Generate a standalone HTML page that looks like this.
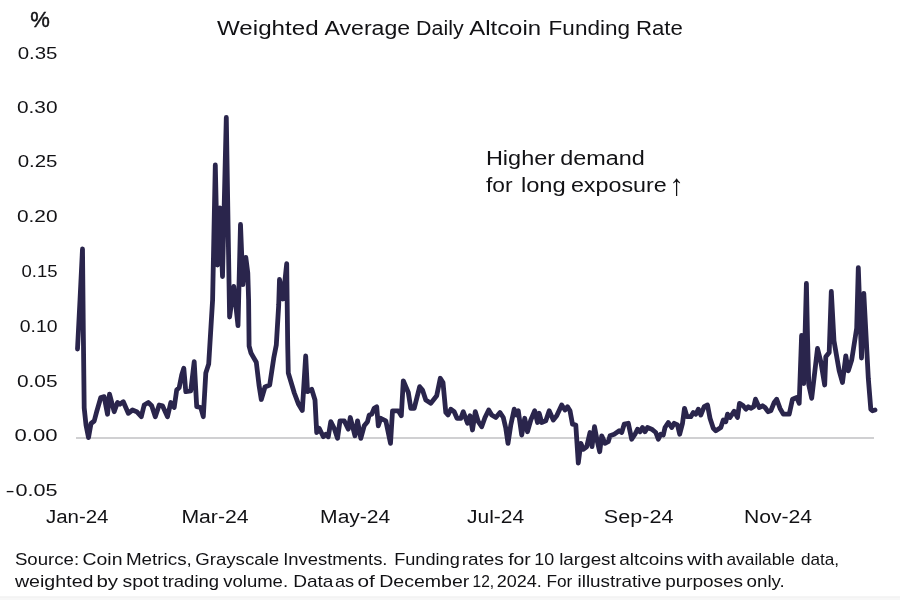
<!DOCTYPE html>
<html lang="en">
<head>
<meta charset="utf-8">
<title>Weighted Average Daily Altcoin Funding Rate</title>
<style>
html,body{margin:0;padding:0;background:#fff;}
body{width:900px;height:600px;overflow:hidden;}
svg{display:block;will-change:transform;}
text{font-family:"Liberation Sans", sans-serif;fill:#121215;}
</style>
</head>
<body>
<svg width="900" height="600" viewBox="0 0 900 600">
<rect x="0" y="0" width="900" height="600" fill="#ffffff"/>
<rect x="0" y="596.5" width="900" height="3.5" fill="#f7f7f7"/>
<rect x="0" y="596.5" width="900" height="1" fill="#efefef"/>
<line x1="76" y1="438" x2="874" y2="438" stroke="#d0d0d2" stroke-width="2"/>
<text x="217.0" y="34.6" font-size="19.6" text-anchor="start" textLength="101.6" lengthAdjust="spacingAndGlyphs">Weighted</text>
<text x="324.5" y="34.6" font-size="19.6" text-anchor="start" textLength="85.7" lengthAdjust="spacingAndGlyphs">Average</text>
<text x="416.1" y="34.6" font-size="19.6" text-anchor="start" textLength="47.5" lengthAdjust="spacingAndGlyphs">Daily</text>
<text x="469.2" y="34.6" font-size="19.6" text-anchor="start" textLength="71.9" lengthAdjust="spacingAndGlyphs">Altcoin</text>
<text x="548.6" y="34.6" font-size="19.6" text-anchor="start" textLength="81.4" lengthAdjust="spacingAndGlyphs">Funding</text>
<text x="635.9" y="34.6" font-size="19.6" text-anchor="start" textLength="46.9" lengthAdjust="spacingAndGlyphs">Rate</text>
<text x="30.2" y="27.4" font-size="21.4" text-anchor="start" textLength="19.6" lengthAdjust="spacingAndGlyphs" stroke="#121215" stroke-width="0.45">%</text>
<text x="57.5" y="58.6" font-size="17.2" text-anchor="end" textLength="39.8" lengthAdjust="spacingAndGlyphs">0.35</text>
<text x="57.5" y="113.2" font-size="17.2" text-anchor="end" textLength="40.6" lengthAdjust="spacingAndGlyphs">0.30</text>
<text x="57.5" y="166.9" font-size="17.2" text-anchor="end" textLength="39.8" lengthAdjust="spacingAndGlyphs">0.25</text>
<text x="57.5" y="221.8" font-size="17.2" text-anchor="end" textLength="40.6" lengthAdjust="spacingAndGlyphs">0.20</text>
<text x="57.5" y="276.8" font-size="17.2" text-anchor="end" textLength="36" lengthAdjust="spacingAndGlyphs">0.15</text>
<text x="57.5" y="331.7" font-size="17.2" text-anchor="end" textLength="37.7" lengthAdjust="spacingAndGlyphs">0.10</text>
<text x="57.5" y="386.8" font-size="17.2" text-anchor="end" textLength="40.6" lengthAdjust="spacingAndGlyphs">0.05</text>
<text x="57.5" y="440.9" font-size="17.2" text-anchor="end" textLength="43" lengthAdjust="spacingAndGlyphs">0.00</text>
<text y="495.9" font-size="17.2"><tspan x="5.6" textLength="9.2" lengthAdjust="spacingAndGlyphs">-</tspan><tspan x="15.4" textLength="42.1" lengthAdjust="spacingAndGlyphs">0.05</tspan></text>
<text x="77.2" y="523.0" font-size="17.6" text-anchor="middle" textLength="62.6" lengthAdjust="spacingAndGlyphs">Jan-24</text>
<text x="215" y="523.0" font-size="17.6" text-anchor="middle" textLength="67.2" lengthAdjust="spacingAndGlyphs">Mar-24</text>
<text x="355.2" y="523.0" font-size="17.6" text-anchor="middle" textLength="70.2" lengthAdjust="spacingAndGlyphs">May-24</text>
<text x="495.6" y="523.0" font-size="17.6" text-anchor="middle" textLength="57.2" lengthAdjust="spacingAndGlyphs">Jul-24</text>
<text x="638.6" y="523.0" font-size="17.6" text-anchor="middle" textLength="69.6" lengthAdjust="spacingAndGlyphs">Sep-24</text>
<text x="778" y="523.0" font-size="17.6" text-anchor="middle" textLength="68.2" lengthAdjust="spacingAndGlyphs">Nov-24</text>
<text x="485.9" y="165" font-size="19.6" text-anchor="start" textLength="69.2" lengthAdjust="spacingAndGlyphs">Higher</text>
<text x="560.2" y="165" font-size="19.6" text-anchor="start" textLength="84.6" lengthAdjust="spacingAndGlyphs">demand</text>
<text x="485.9" y="192.3" font-size="19.6" text-anchor="start" textLength="26.6" lengthAdjust="spacingAndGlyphs">for</text>
<text x="520.9" y="192.3" font-size="19.6" text-anchor="start" textLength="44.9" lengthAdjust="spacingAndGlyphs">long</text>
<text x="570.9" y="192.3" font-size="19.6" text-anchor="start" textLength="95.9" lengthAdjust="spacingAndGlyphs">exposure</text>
<text x="669.3" y="194.8" font-size="29.4" text-anchor="start">↑</text>
<text x="14.9" y="565" font-size="16.6" text-anchor="start" textLength="64.2" lengthAdjust="spacingAndGlyphs">Source:</text>
<text x="82.5" y="565" font-size="16.6" text-anchor="start" textLength="40.0" lengthAdjust="spacingAndGlyphs">Coin</text>
<text x="125.9" y="565" font-size="16.6" text-anchor="start" textLength="65.9" lengthAdjust="spacingAndGlyphs">Metrics,</text>
<text x="195.2" y="565" font-size="16.6" text-anchor="start" textLength="83.9" lengthAdjust="spacingAndGlyphs">Grayscale</text>
<text x="283.2" y="565" font-size="16.6" text-anchor="start" textLength="104.3" lengthAdjust="spacingAndGlyphs">Investments.</text>
<text x="394.2" y="565" font-size="16.6" text-anchor="start" textLength="65.6" lengthAdjust="spacingAndGlyphs">Funding</text>
<text x="461.7" y="565" font-size="16.6" text-anchor="start" textLength="42.1" lengthAdjust="spacingAndGlyphs">rates</text>
<text x="508.2" y="565" font-size="16.6" text-anchor="start" textLength="22.6" lengthAdjust="spacingAndGlyphs">for</text>
<text x="534.2" y="565" font-size="16.6" text-anchor="start" textLength="19.9" lengthAdjust="spacingAndGlyphs">10</text>
<text x="559.2" y="565" font-size="16.6" text-anchor="start" textLength="56.6" lengthAdjust="spacingAndGlyphs">largest</text>
<text x="619.2" y="565" font-size="16.6" text-anchor="start" textLength="64.3" lengthAdjust="spacingAndGlyphs">altcoins</text>
<text x="686.9" y="565" font-size="16.6" text-anchor="start" textLength="36.6" lengthAdjust="spacingAndGlyphs">with</text>
<text x="726.5" y="565" font-size="16.6" text-anchor="start" textLength="68.3" lengthAdjust="spacingAndGlyphs">available</text>
<text x="800.9" y="565" font-size="16.6" text-anchor="start" textLength="38.2" lengthAdjust="spacingAndGlyphs">data,</text>
<text x="14.9" y="586.6" font-size="16.6" text-anchor="start" textLength="78.6" lengthAdjust="spacingAndGlyphs">weighted</text>
<text x="96.5" y="586.6" font-size="16.6" text-anchor="start" textLength="21.6" lengthAdjust="spacingAndGlyphs">by</text>
<text x="122.5" y="586.6" font-size="16.6" text-anchor="start" textLength="36.6" lengthAdjust="spacingAndGlyphs">spot</text>
<text x="162.5" y="586.6" font-size="16.6" text-anchor="start" textLength="56.6" lengthAdjust="spacingAndGlyphs">trading</text>
<text x="223.2" y="586.6" font-size="16.6" text-anchor="start" textLength="64.9" lengthAdjust="spacingAndGlyphs">volume.</text>
<text x="293.2" y="586.6" font-size="16.6" text-anchor="start" textLength="40.3" lengthAdjust="spacingAndGlyphs">Data</text>
<text x="334.9" y="586.6" font-size="16.6" text-anchor="start" textLength="19.2" lengthAdjust="spacingAndGlyphs">as</text>
<text x="357.5" y="586.6" font-size="16.6" text-anchor="start" textLength="17.3" lengthAdjust="spacingAndGlyphs">of</text>
<text x="379.2" y="586.6" font-size="16.6" text-anchor="start" textLength="90.1" lengthAdjust="spacingAndGlyphs">December</text>
<text x="472.5" y="586.6" font-size="16.6" text-anchor="start" textLength="21.6" lengthAdjust="spacingAndGlyphs">12,</text>
<text x="496.7" y="586.6" font-size="16.6" text-anchor="start" textLength="45.1" lengthAdjust="spacingAndGlyphs">2024.</text>
<text x="546.4" y="586.6" font-size="16.6" text-anchor="start" textLength="25.9" lengthAdjust="spacingAndGlyphs">For</text>
<text x="577.5" y="586.6" font-size="16.6" text-anchor="start" textLength="84.0" lengthAdjust="spacingAndGlyphs">illustrative</text>
<text x="665.2" y="586.6" font-size="16.6" text-anchor="start" textLength="77.9" lengthAdjust="spacingAndGlyphs">purposes</text>
<text x="746.5" y="586.6" font-size="16.6" text-anchor="start" textLength="38.3" lengthAdjust="spacingAndGlyphs">only.</text>
<polyline points="77.5,349.0 80.0,300.0 82.5,249.0 83.3,330.0 84.2,408.0 86.0,425.0 88.5,437.6 91.0,423.5 94.2,421.0 96.7,411.7 100.8,397.5 104.2,396.7 107.5,414.2 109.5,394.2 114.2,411.7 117.5,402.5 120.0,404.2 123.3,401.7 128.3,413.3 132.5,410.0 136.7,411.7 141.3,416.7 144.2,405.0 148.3,402.5 151.7,405.8 155.3,416.7 159.2,405.0 162.5,405.8 167.5,416.7 170.8,402.5 174.2,407.5 176.7,390.0 179.2,387.5 181.7,375.0 183.8,368.3 185.8,391.7 190.8,390.8 194.2,361.7 196.7,406.7 200.8,407.5 203.3,416.7 205.8,373.0 208.7,364.0 212.6,300.0 215.3,165.0 217.5,265.0 220.0,208.0 222.5,276.5 226.3,117.5 229.6,317.0 233.8,286.5 238.0,325.7 240.5,224.5 242.9,284.7 245.8,257.4 247.8,273.0 248.6,300.0 249.1,346.0 251.0,353.0 256.3,362.3 259.0,385.0 261.3,399.5 265.0,387.0 269.7,385.0 273.7,358.3 276.3,345.0 278.7,305.0 279.5,279.5 283.0,299.0 286.7,263.7 287.7,345.0 288.3,373.0 294.3,393.0 298.3,403.7 302.3,410.5 305.7,356.0 307.5,391.7 311.7,389.2 315.0,400.0 316.7,432.5 319.2,428.3 323.3,436.7 325.8,434.2 328.3,436.7 330.8,421.7 334.2,428.3 337.5,438.3 340.0,420.8 344.2,420.8 348.3,429.2 350.3,417.5 355.0,435.8 357.5,420.8 360.8,438.3 364.2,425.8 367.5,421.7 369.2,415.0 371.7,414.2 374.2,408.3 376.7,406.7 378.3,425.8 380.8,418.3 385.8,420.8 390.5,443.3 392.5,410.8 398.3,410.8 401.3,415.8 403.3,380.8 408.3,392.5 410.8,408.3 414.2,408.3 419.7,386.7 422.5,390.0 425.8,400.0 430.8,403.3 436.7,395.8 440.3,378.3 443.0,382.5 445.8,412.5 448.0,415.0 450.8,409.2 454.2,411.7 457.0,418.3 460.8,418.3 463.3,411.7 467.5,423.3 470.0,415.8 472.5,430.0 475.3,411.7 478.3,421.7 481.7,426.7 485.0,417.5 488.7,410.0 491.7,415.0 495.8,417.5 500.0,412.5 503.3,417.5 505.8,428.3 508.0,443.3 510.8,425.0 514.2,409.2 516.7,415.0 518.3,410.8 521.7,435.0 524.7,418.3 527.5,431.7 530.8,420.0 534.7,410.8 537.5,422.5 539.2,413.3 541.7,422.5 545.8,420.8 549.2,410.8 553.3,420.0 556.7,415.8 561.7,405.0 565.0,410.0 567.5,406.7 570.0,410.8 572.5,424.2 575.8,425.0 578.3,463.0 580.8,443.3 583.3,449.2 586.7,446.7 590.0,432.5 592.0,446.7 594.5,426.7 597.0,440.0 599.7,451.7 601.7,435.8 605.0,443.3 608.3,441.7 610.0,435.8 614.2,434.2 619.2,430.8 621.7,432.5 624.2,424.2 628.3,423.3 631.7,439.2 635.0,434.2 637.5,429.2 640.0,431.7 642.5,427.5 645.0,431.7 647.5,427.5 651.7,429.2 655.8,432.5 658.3,439.2 660.8,434.2 663.3,435.0 665.0,427.5 668.3,422.5 671.7,427.5 674.2,423.3 677.5,425.0 679.7,434.2 682.5,423.3 684.5,408.3 687.0,416.7 690.8,416.7 693.3,412.5 695.8,414.2 698.3,409.2 700.8,415.0 704.2,406.7 707.5,405.0 710.0,418.3 713.3,428.3 715.8,430.8 720.8,427.5 723.3,420.0 725.8,421.7 727.5,414.2 730.0,417.5 734.2,411.2 737.5,417.5 739.5,403.3 743.3,405.8 745.8,409.2 748.3,406.7 750.8,408.3 753.7,406.7 755.5,399.2 759.2,407.5 762.5,405.8 765.0,407.5 768.0,411.7 770.8,410.8 774.2,402.5 776.7,399.2 780.0,408.3 783.3,414.2 789.2,414.2 792.5,399.2 796.7,397.5 799.2,403.3 801.6,335.5 803.8,383.5 806.4,283.5 807.6,340.0 808.8,385.0 811.7,398.3 817.5,348.5 820.8,361.7 824.7,385.0 825.8,356.7 829.2,352.5 831.3,291.5 834.0,341.0 839.2,370.8 842.5,382.5 845.8,355.8 848.3,370.8 851.7,360.0 856.7,328.0 858.3,267.7 861.5,358.0 863.8,293.5 868.3,378.3 870.8,409.2 872.5,410.8 875.0,410.0" fill="none" stroke="#2a254c" stroke-width="4.8" stroke-linejoin="round" stroke-linecap="round"/>
</svg>
</body>
</html>
